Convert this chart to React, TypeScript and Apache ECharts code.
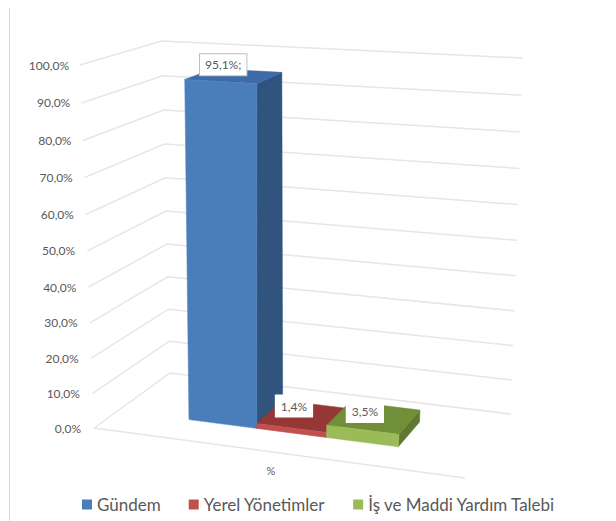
import React, { useEffect, useRef } from "react";
import * as echarts from "echarts";

const categories = ["Gündem", "Yerel Yönetimler", "İş ve Maddi Yardım Talebi"];
const values = [95.1, 1.4, 3.5];
const valueLabels = ["95,1%;", "1,4%", "3,5%"];
const tickValues = [0, 10, 20, 30, 40, 50, 60, 70, 80, 90, 100];
const tickLabels = ["0,0%", "10,0%", "20,0%", "30,0%", "40,0%", "50,0%", "60,0%", "70,0%", "80,0%", "90,0%", "100,0%"];
const axisName = "%";

const FONT = "Lato, 'Open Sans', sans-serif";
const TEXT = "#595959";
const GRIDLINE = "#e6e6e6";
const faces = [
  { front: "#4a7ebb", top: "#3e6ca8", side: "#31547f" },
  { front: "#c0504d", top: "#953735", side: "#772c2a" },
  { front: "#9bbb59", top: "#718f39", side: "#5f7a30" },
];
const labelShift = [[-11, -11], [-10, -10], [-9, -6]];

type P = [number, number];
function squareToQuad(p0: P, p1: P, p2: P, p3: P) {
  const dx1 = p1[0] - p2[0], dx2 = p3[0] - p2[0], sx = p0[0] - p1[0] + p2[0] - p3[0];
  const dy1 = p1[1] - p2[1], dy2 = p3[1] - p2[1], sy = p0[1] - p1[1] + p2[1] - p3[1];
  const den = dx1 * dy2 - dx2 * dy1;
  const g = (sx * dy2 - dx2 * sy) / den, h = (dx1 * sy - sx * dy1) / den;
  const a = p1[0] - p0[0] + g * p1[0], b = p3[0] - p0[0] + h * p3[0], c = p0[0];
  const d = p1[1] - p0[1] + g * p1[1], e = p3[1] - p0[1] + h * p3[1], f = p0[1];
  return (u: number, v: number): P => {
    const w = g * u + h * v + 1;
    return [(a * u + b * v + c) / w, (d * u + e * v + f) / w];
  };
}
const floorMap = squareToQuad([94, 428], [465, 478], [511, 414], [170, 373]);
const ceilMap = squareToQuad([80, 65], [500, 90], [523, 58], [162, 41]);

// Hidden cartesian grid whose scales feed the 3D projection.
const G = { left: 100, top: 100, width: 300, height: 300 };
const U0 = 0.208, U1 = 0.788, V0 = 0.3, V1 = 0.7;
const BAR_LEAN = 4;
const heightShare = (t: number) => t / (t + 1.05 * (1 - t));
function project(u: number, v: number, t: number): P {
  const a = floorMap(u, v), b = ceilMap(u, v), s = heightShare(t);
  return [a[0] + (b[0] - a[0]) * s, a[1] + (b[1] - a[1]) * s];
}
const yShare = (py: number) => (G.top + G.height - py) / G.height;

function renderWall(_: any, api: any) {
  const t = yShare(api.coord([0, api.value(1)])[1]);
  const label = tickLabels[api.value(2)];
  const a = project(0, 0, t), b = project(0, 1, t), c = project(1, 1, t);
  const children: any[] = [
    { type: "polyline", shape: { points: [a, b, c] }, style: { stroke: GRIDLINE, lineWidth: 1.5, fill: "none" } },
    { type: "text", style: { x: a[0] - 13 + 2 * t, y: a[1], text: label, fill: TEXT, font: `12px ${FONT}`, align: "right", verticalAlign: "middle" } },
  ];
  if (t === 0) {
    children.push({ type: "line", shape: { x1: a[0], y1: a[1], x2: project(1, 0, 0)[0], y2: project(1, 0, 0)[1] }, style: { stroke: GRIDLINE, lineWidth: 1.5 } });
  }
  return { type: "group", children };
}

function barRenderer(i: number) {
  return (_: any, api: any) => {
    const c = api.coord([api.value(0), api.value(1)]);
    const bw = api.size([1, 0])[0];
    const toU = (px: number) => U0 + ((px - G.left) / G.width) * (U1 - U0);
    const ua = toU(c[0] - bw / 2), ub = toU(c[0] + bw / 2);
    const t = yShare(c[1]);
    const p = (u: number, v: number, h: number): P => {
      const q = project(u, v, h);
      return [q[0] + BAR_LEAN * heightShare(h), q[1]];
    };
    const f = faces[i];
    const poly = (points: P[], fill: string) => ({ type: "polygon", shape: { points }, style: { fill, stroke: fill, lineWidth: 0.5 } });
    const topC = p((ua + ub) / 2, (V0 + V1) / 2, t);
    return {
      type: "group",
      children: [
        poly([p(ub, V0, 0), p(ub, V1, 0), p(ub, V1, t), p(ub, V0, t)], f.side),
        poly([p(ua, V0, t), p(ub, V0, t), p(ub, V1, t), p(ua, V1, t)], f.top),
        poly([p(ua, V0, 0), p(ub, V0, 0), p(ub, V0, t), p(ua, V0, t)], f.front),
        {
          type: "text",
          style: {
            x: topC[0] + labelShift[i][0], y: topC[1] + labelShift[i][1], text: valueLabels[i],
            fill: TEXT, font: `12px ${FONT}`, align: "center", verticalAlign: "middle",
            backgroundColor: "#ffffff", borderColor: i === 0 ? "#bfbfbf" : "#ffffff", borderWidth: 1,
            padding: [5, 5, 4, 5],
          },
        },
      ],
    };
  };
}

export default function App() {
  const ref = useRef<HTMLDivElement>(null);
  useEffect(() => {
    const chart = echarts.init(ref.current!, null, { renderer: "svg" });
    chart.setOption({
      animation: false,
      backgroundColor: "#ffffff",
      textStyle: { fontFamily: FONT },
      grid: { left: G.left, top: G.top, width: G.width, height: G.height },
      xAxis: { type: "category", data: categories, show: false },
      yAxis: { type: "value", min: 0, max: 100, interval: 10, show: false },
      legend: {
        left: 77, top: 491, icon: "rect", itemWidth: 10, itemHeight: 10, itemGap: 28,
        data: categories, selectedMode: false,
        textStyle: { color: TEXT, fontSize: 17, fontFamily: FONT },
      },
      graphic: [
        { type: "line", shape: { x1: 9.5, y1: 8, x2: 9.5, y2: 521 }, style: { stroke: "#d9d9d9", lineWidth: 1 } },
        { type: "text", x: 271, y: 470, style: { text: axisName, fill: TEXT, font: `11px ${FONT}`, align: "center", verticalAlign: "middle" } },
      ],
      series: [
        {
          type: "custom", name: "wall", renderItem: renderWall, silent: true, z: 1,
          data: tickValues.map((v, i) => [0, v, i]), encode: { x: 0, y: 1 },
        },
        ...categories.map((name, i) => ({
          type: "custom", name, renderItem: barRenderer(i), z: 2,
          itemStyle: { color: faces[i].front },
          data: [[i, values[i]]], encode: { x: 0, y: 1 },
        })),
      ],
    });
    return () => chart.dispose();
  }, []);
  return <div ref={ref} style={{ position: "fixed", left: 0, top: 0, width: 616, height: 521 }} />;
}
